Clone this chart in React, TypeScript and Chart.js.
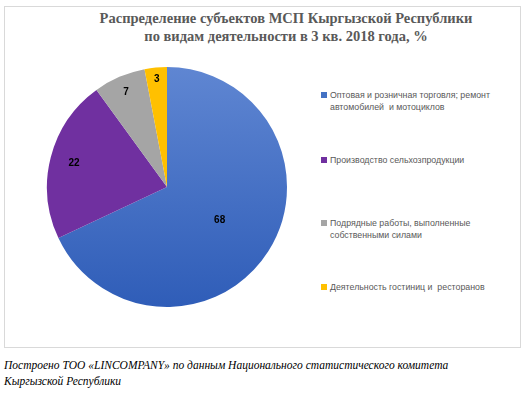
import React, { useEffect, useRef } from "react";
import { Chart, registerables } from "chart.js";

Chart.register(...registerables);

const titleLines = [
  "Распределение субъектов МСП Кыргызской Республики",
  "по видам деятельности в 3 кв. 2018 года, %",
];
const categories = [
  "Оптовая и розничная торговля; ремонт\nавтомобилей  и мотоциклов",
  "Производство сельхозпродукции",
  "Подрядные работы, выполненные\nсобственными силами",
  "Деятельность гостиниц и  ресторанов",
];
const values = [68, 22, 7, 3];
const colors = ["#4472C4", "#7030A0", "#A5A5A5", "#FFC000"];
const labelRadiusFraction = [0.52, 0.8, 0.86, 0.9];
const footnote = [
  "Построено ТОО «LINCOMPANY» по данным Национального статистического комитета",
  "Кыргызской Республики",
];

const legendTops = [89, 154, 217, 281];

const labelPlugin = {
  id: "sliceLabels",
  afterDatasetsDraw(chart: any) {
    const ctx = chart.ctx;
    const meta = chart.getDatasetMeta(0);
    ctx.save();
    ctx.font = "bold 10px 'Liberation Sans', Arial, sans-serif";
    ctx.fillStyle = "#000000";
    ctx.textAlign = "center";
    ctx.textBaseline = "middle";
    meta.data.forEach((arc: any, i: number) => {
      const p = arc.getProps(["x", "y", "startAngle", "endAngle", "outerRadius"], true);
      const mid = (p.startAngle + p.endAngle) / 2;
      const r = p.outerRadius * labelRadiusFraction[i];
      ctx.fillText(String(values[i]), p.x + Math.cos(mid) * r, p.y + Math.sin(mid) * r);
    });
    ctx.restore();
  },
};

export default function App() {
  const ref = useRef<HTMLCanvasElement>(null);

  useEffect(() => {
    document.body.style.margin = "0";
    if (!ref.current) return;
    const chart = new Chart(ref.current, {
      type: "pie",
      data: {
        labels: categories,
        datasets: [
          {
            data: values,
            backgroundColor: (c: any) => {
              const i = c.dataIndex;
              if (i === 0 && c.chart.chartArea) {
                const a = c.chart.chartArea;
                const g = c.chart.ctx.createLinearGradient(0, a.top, 0, a.bottom);
                g.addColorStop(0, "#5F86D2");
                g.addColorStop(1, "#2F5DB8");
                return g;
              }
              return colors[i];
            },
            borderWidth: 0,
          },
        ],
      },
      options: {
        animation: false,
        responsive: false,
        maintainAspectRatio: false,
        layout: { padding: 5 },
        plugins: {
          legend: { display: false },
          tooltip: { enabled: false },
          title: { display: false },
        },
      },
      plugins: [labelPlugin],
    });
    return () => chart.destroy();
  }, []);

  return (
    <div style={{ position: "relative", width: 525, height: 396, background: "#fff" }}>
      <div
        style={{
          position: "absolute",
          left: 4,
          top: 6,
          width: 517,
          height: 342,
          border: "1px solid #D9D9D9",
          boxSizing: "border-box",
        }}
      />
      <div
        style={{
          position: "absolute",
          left: 80,
          top: 9,
          width: 412,
          textAlign: "center",
          fontFamily: "'Liberation Serif', 'Times New Roman', serif",
          fontWeight: "bold",
          fontSize: 14.5,
          lineHeight: "18px",
          color: "#595959",
        }}
      >
        {titleLines.map((t, i) => (
          <div key={i}>{t}</div>
        ))}
      </div>
      <canvas
        ref={ref}
        width={250}
        height={250}
        style={{ position: "absolute", left: 42, top: 62, width: 250, height: 250 }}
      />
      {categories.map((c, i) => (
        <div
          key={i}
          style={{
            position: "absolute",
            left: 321,
            top: legendTops[i],
            display: "flex",
            alignItems: "flex-start",
            fontFamily: "'Liberation Sans', Arial, sans-serif",
            fontSize: 8.8,
            color: "#595959",
          }}
        >
          <div
            style={{
              width: 6,
              height: 6,
              background: colors[i],
              marginTop: 3,
              marginRight: 3,
              flexShrink: 0,
            }}
          />
          <div style={{ whiteSpace: "pre", lineHeight: "12px" }}>{c}</div>
        </div>
      ))}
      <div
        style={{
          position: "absolute",
          left: 4,
          top: 357,
          fontFamily: "'Liberation Serif', 'Times New Roman', serif",
          fontStyle: "italic",
          fontSize: 11.5,
          lineHeight: "16px",
          color: "#000",
        }}
      >
        {footnote.map((t, i) => (
          <div key={i}>{t}</div>
        ))}
      </div>
    </div>
  );
}
